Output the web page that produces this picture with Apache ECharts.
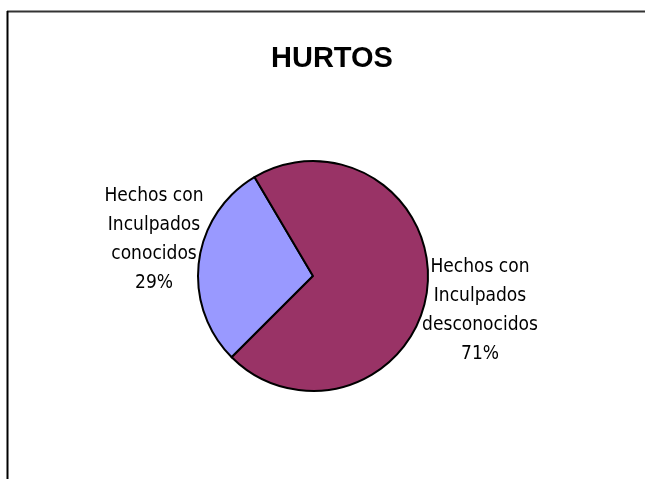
<!DOCTYPE html>
<html style="height: 100%">
<head>
    <meta charset="utf-8">
    <title>HURTOS</title>
    <script src="https://cdn.jsdelivr.net/npm/echarts@6/dist/echarts.min.js"></script>
</head>
<body style="height: 100%; margin: 0; background: #fff">
<div id="chart1" style="width:645px;height:479px"></div>
<script type="text/javascript">
    // datos del grafico
    var nombres = ['Hechos con\nInculpados\nconocidos', 'Hechos con\nInculpados\ndesconocidos'];
    var valores = [29, 71];
    var colores = ['#9999FF', '#993366'];

    // posicion de las etiquetas (centro del bloque de texto)
    var etiquetas = [[154, 240], [480, 311]];

    var datos = nombres.map(function (n, i) {
        return {name: n, value: valores[i], itemStyle: {color: colores[i]}};
    });

    var myChart1 = echarts.init(document.getElementById('chart1'));

    myChart1.setOption({
        animation: false,
        title: {
            text: 'HURTOS',
            left: 266,
            top: 39,
            textStyle: {
                fontFamily: 'Liberation Sans',
                fontWeight: 'bold',
                fontSize: 29,
                color: '#000'
            }
        },
        graphic: [
            {type: 'line', shape: {x1: 7, y1: 11.5, x2: 645, y2: 11.5}, style: {stroke: '#333', lineWidth: 2}},
            {type: 'line', shape: {x1: 7.5, y1: 11, x2: 7.5, y2: 479}, style: {stroke: '#000', lineWidth: 2}}
        ],
        series: [
            {
                name: 'HURTOS',
                type: 'pie',
                radius: 115,
                center: [313, 276],
                startAngle: 225,
                clockwise: true,
                data: datos,
                itemStyle: {
                    borderColor: '#000',
                    borderWidth: 2
                },
                label: {
                    show: true,
                    position: 'outside',
                    formatter: '{b}\n{d}%',
                    fontFamily: '"DejaVu Sans Condensed", "Liberation Sans", sans-serif',
                    fontSize: 19,
                    lineHeight: 29,
                    color: '#000',
                    align: 'center'
                },
                labelLine: {show: false},
                labelLayout: function (params) {
                    var p = etiquetas[params.dataIndex];
                    return {x: p[0], y: p[1], align: 'center', verticalAlign: 'middle'};
                },
                emphasis: {disabled: true}
            }
        ]
    });
</script>
</body>
</html>
